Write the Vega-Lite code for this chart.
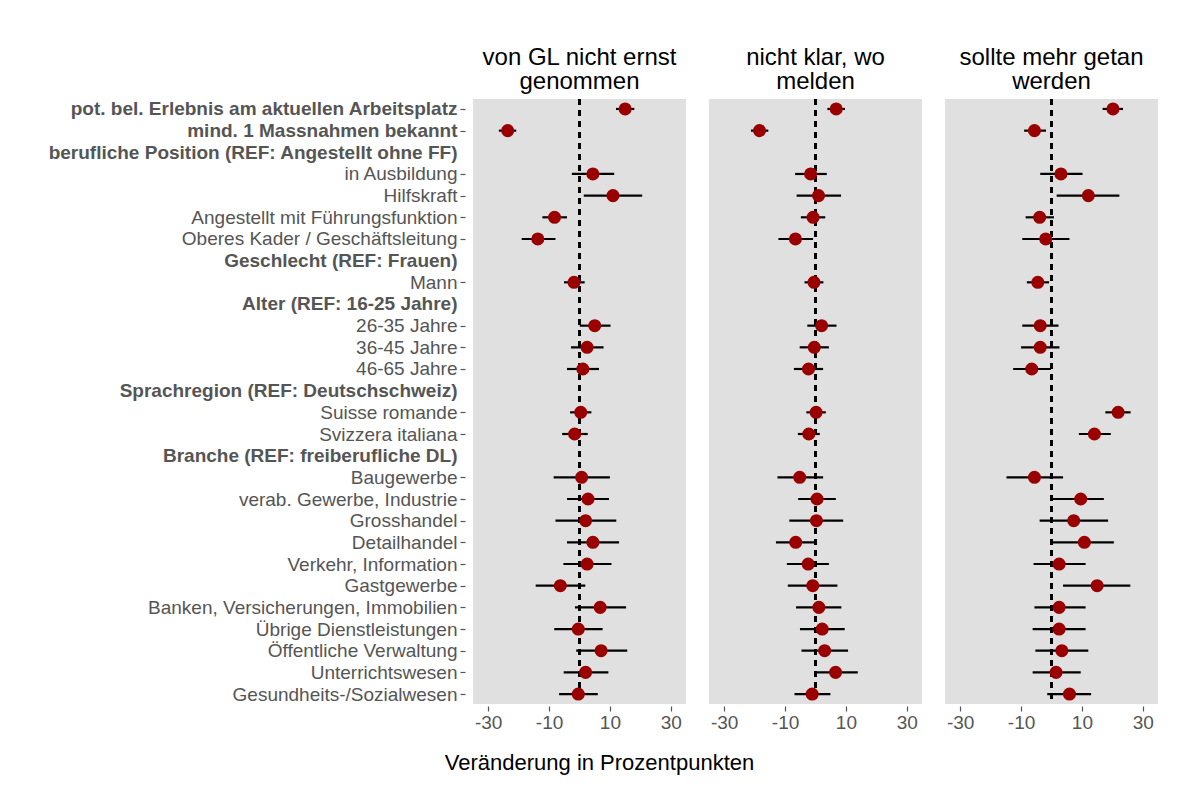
{
  "$schema": "https://vega.github.io/schema/vega-lite/v6.json",
  "background": "white",
  "padding": {"left": 47, "top": 46, "right": 5, "bottom": 5},
  "config": {
    "font": "Liberation Sans",
    "view": {"fill": "#E0E0E0", "stroke": null},
    "axis": {"domain": false, "gridColor": "white", "gridWidth": 1.6, "labelFont": "Liberation Sans", "labelFontSize": 19, "labelColor": "#555555", "tickColor": "#555555", "tickWidth": 1.2},
    "title": {"font": "Liberation Sans", "fontSize": 24, "fontWeight": "normal", "color": "black", "lineHeight": 24, "offset": 4, "anchor": "middle"}
  },
  "datasets": {
    "rows": [
      {"p": "GL", "y": "pot. bel. Erlebnis am aktuellen Arbeitsplatz", "e": 15.0, "lo": 12.0, "hi": 18.0},
      {"p": "GL", "y": "mind. 1 Massnahmen bekannt", "e": -23.6, "lo": -26.5, "hi": -20.8},
      {"p": "GL", "y": "in Ausbildung", "e": 4.4, "lo": -2.5, "hi": 11.4},
      {"p": "GL", "y": "Hilfskraft", "e": 11.0, "lo": 1.4, "hi": 20.6},
      {"p": "GL", "y": "Angestellt mit Führungsfunktion", "e": -8.2, "lo": -12.2, "hi": -4.1},
      {"p": "GL", "y": "Oberes Kader / Geschäftsleitung", "e": -13.7, "lo": -19.0, "hi": -7.9},
      {"p": "GL", "y": "Mann", "e": -1.8, "lo": -5.1, "hi": 1.7},
      {"p": "GL", "y": "26-35 Jahre", "e": 5.0, "lo": 0.1, "hi": 10.2},
      {"p": "GL", "y": "36-45 Jahre", "e": 2.5, "lo": -2.8, "hi": 7.9},
      {"p": "GL", "y": "46-65 Jahre", "e": 1.1, "lo": -4.1, "hi": 6.4},
      {"p": "GL", "y": "Suisse romande", "e": 0.4, "lo": -3.1, "hi": 3.9},
      {"p": "GL", "y": "Svizzera italiana", "e": -1.6, "lo": -5.7, "hi": 2.7},
      {"p": "GL", "y": "Baugewerbe", "e": 0.7, "lo": -8.5, "hi": 10.0},
      {"p": "GL", "y": "verab. Gewerbe, Industrie", "e": 2.8, "lo": -4.1, "hi": 9.7},
      {"p": "GL", "y": "Grosshandel", "e": 2.0, "lo": -7.9, "hi": 12.1},
      {"p": "GL", "y": "Detailhandel", "e": 4.4, "lo": -4.1, "hi": 13.0},
      {"p": "GL", "y": "Verkehr, Information", "e": 2.5, "lo": -5.3, "hi": 10.5},
      {"p": "GL", "y": "Gastgewerbe", "e": -6.3, "lo": -14.4, "hi": 1.9},
      {"p": "GL", "y": "Banken, Versicherungen, Immobilien", "e": 6.8, "lo": -1.5, "hi": 15.3},
      {"p": "GL", "y": "Übrige Dienstleistungen", "e": -0.4, "lo": -8.3, "hi": 7.6},
      {"p": "GL", "y": "Öffentliche Verwaltung", "e": 7.1, "lo": -1.1, "hi": 15.7},
      {"p": "GL", "y": "Unterrichtswesen", "e": 2.0, "lo": -5.2, "hi": 9.5},
      {"p": "GL", "y": "Gesundheits-/Sozialwesen", "e": -0.4, "lo": -6.7, "hi": 6.0},
      {"p": "ME", "y": "pot. bel. Erlebnis am aktuellen Arbeitsplatz", "e": 6.8, "lo": 3.9, "hi": 9.7},
      {"p": "ME", "y": "mind. 1 Massnahmen bekannt", "e": -18.4, "lo": -21.2, "hi": -15.5},
      {"p": "ME", "y": "in Ausbildung", "e": -1.6, "lo": -6.7, "hi": 3.7},
      {"p": "ME", "y": "Hilfskraft", "e": 1.0, "lo": -6.2, "hi": 8.4},
      {"p": "ME", "y": "Angestellt mit Führungsfunktion", "e": -0.8, "lo": -4.8, "hi": 3.2},
      {"p": "ME", "y": "Oberes Kader / Geschäftsleitung", "e": -6.6, "lo": -12.2, "hi": -0.8},
      {"p": "ME", "y": "Mann", "e": -0.5, "lo": -3.6, "hi": 2.6},
      {"p": "ME", "y": "26-35 Jahre", "e": 2.0, "lo": -2.7, "hi": 6.9},
      {"p": "ME", "y": "36-45 Jahre", "e": -0.4, "lo": -5.2, "hi": 4.4},
      {"p": "ME", "y": "46-65 Jahre", "e": -2.3, "lo": -7.1, "hi": 2.5},
      {"p": "ME", "y": "Suisse romande", "e": 0.2, "lo": -3.0, "hi": 3.4},
      {"p": "ME", "y": "Svizzera italiana", "e": -2.2, "lo": -5.8, "hi": 1.4},
      {"p": "ME", "y": "Baugewerbe", "e": -5.2, "lo": -12.5, "hi": 2.5},
      {"p": "ME", "y": "verab. Gewerbe, Industrie", "e": 0.5, "lo": -5.7, "hi": 6.7},
      {"p": "ME", "y": "Grosshandel", "e": 0.3, "lo": -8.6, "hi": 9.1},
      {"p": "ME", "y": "Detailhandel", "e": -6.5, "lo": -13.0, "hi": 0.0},
      {"p": "ME", "y": "Verkehr, Information", "e": -2.4, "lo": -9.4, "hi": 4.4},
      {"p": "ME", "y": "Gastgewerbe", "e": -0.9, "lo": -9.1, "hi": 7.2},
      {"p": "ME", "y": "Banken, Versicherungen, Immobilien", "e": 1.1, "lo": -6.4, "hi": 8.5},
      {"p": "ME", "y": "Übrige Dienstleistungen", "e": 2.2, "lo": -5.1, "hi": 9.6},
      {"p": "ME", "y": "Öffentliche Verwaltung", "e": 3.0, "lo": -4.6, "hi": 10.7},
      {"p": "ME", "y": "Unterrichtswesen", "e": 6.6, "lo": -0.4, "hi": 13.9},
      {"p": "ME", "y": "Gesundheits-/Sozialwesen", "e": -1.1, "lo": -6.9, "hi": 4.9},
      {"p": "MG", "y": "pot. bel. Erlebnis am aktuellen Arbeitsplatz", "e": 20.2, "lo": 16.8, "hi": 23.5},
      {"p": "MG", "y": "mind. 1 Massnahmen bekannt", "e": -5.6, "lo": -9.0, "hi": -1.8},
      {"p": "MG", "y": "in Ausbildung", "e": 3.1, "lo": -3.7, "hi": 10.2},
      {"p": "MG", "y": "Hilfskraft", "e": 12.1, "lo": 1.7, "hi": 22.3},
      {"p": "MG", "y": "Angestellt mit Führungsfunktion", "e": -3.9, "lo": -8.5, "hi": 0.8},
      {"p": "MG", "y": "Oberes Kader / Geschäftsleitung", "e": -1.9, "lo": -9.6, "hi": 5.9},
      {"p": "MG", "y": "Mann", "e": -4.5, "lo": -8.1, "hi": -0.8},
      {"p": "MG", "y": "26-35 Jahre", "e": -3.7, "lo": -9.6, "hi": 2.3},
      {"p": "MG", "y": "36-45 Jahre", "e": -3.7, "lo": -10.0, "hi": 2.6},
      {"p": "MG", "y": "46-65 Jahre", "e": -6.5, "lo": -12.6, "hi": -0.2},
      {"p": "MG", "y": "Suisse romande", "e": 21.9, "lo": 17.7, "hi": 26.0},
      {"p": "MG", "y": "Svizzera italiana", "e": 14.1, "lo": 9.0, "hi": 19.5},
      {"p": "MG", "y": "Baugewerbe", "e": -5.6, "lo": -14.8, "hi": 3.8},
      {"p": "MG", "y": "verab. Gewerbe, Industrie", "e": 9.6, "lo": 0.2, "hi": 17.2},
      {"p": "MG", "y": "Grosshandel", "e": 7.3, "lo": -3.9, "hi": 18.6},
      {"p": "MG", "y": "Detailhandel", "e": 10.8, "lo": 0.2, "hi": 20.5},
      {"p": "MG", "y": "Verkehr, Information", "e": 2.5, "lo": -5.9, "hi": 11.2},
      {"p": "MG", "y": "Gastgewerbe", "e": 15.0, "lo": 3.8, "hi": 25.9},
      {"p": "MG", "y": "Banken, Versicherungen, Immobilien", "e": 2.5, "lo": -5.6, "hi": 11.2},
      {"p": "MG", "y": "Übrige Dienstleistungen", "e": 2.5, "lo": -6.2, "hi": 11.2},
      {"p": "MG", "y": "Öffentliche Verwaltung", "e": 3.4, "lo": -5.3, "hi": 12.1},
      {"p": "MG", "y": "Unterrichtswesen", "e": 1.5, "lo": -6.2, "hi": 9.6},
      {"p": "MG", "y": "Gesundheits-/Sozialwesen", "e": 5.9, "lo": -1.4, "hi": 13.0}
    ]
  },
  "data": {"name": "rows"},
  "spacing": 23,
  "bounds": "flush",
  "hconcat": [
    {
      "width": 213, "height": 605,
      "title": {"text": ["von GL nicht ernst", "genommen"]},
      "transform": [{"filter": "datum.p === 'GL'"}],
      "layer": [
        {"mark": {"type": "rule", "color": "black", "strokeDash": [6, 5], "strokeWidth": 1.3},
         "encoding": {"x": {"datum": 0, "type": "quantitative", "scale": {"domain": [-34.3, 34]}}}},
        {"mark": {"type": "rule", "color": "black", "strokeWidth": 2.2},
         "encoding": {
           "y": {"field": "y", "type": "nominal", "sort": null,
             "scale": {"type": "point", "padding": 0.46, "domain": ["pot. bel. Erlebnis am aktuellen Arbeitsplatz", "mind. 1 Massnahmen bekannt", "berufliche Position (REF: Angestellt ohne FF)", "in Ausbildung", "Hilfskraft", "Angestellt mit Führungsfunktion", "Oberes Kader / Geschäftsleitung", "Geschlecht (REF: Frauen)", "Mann", "Alter (REF: 16-25 Jahre)", "26-35 Jahre", "36-45 Jahre", "46-65 Jahre", "Sprachregion (REF: Deutschschweiz)", "Suisse romande", "Svizzera italiana", "Branche (REF: freiberufliche DL)", "Baugewerbe", "verab. Gewerbe, Industrie", "Grosshandel", "Detailhandel", "Verkehr, Information", "Gastgewerbe", "Banken, Versicherungen, Immobilien", "Übrige Dienstleistungen", "Öffentliche Verwaltung", "Unterrichtswesen", "Gesundheits-/Sozialwesen"]},
             "axis": {"title": null, "offset": 8, "tickSize": 5, "labelPadding": 3, "labelLimit": 0, "minExtent": 400, "maxExtent": 400,
               "labelFontWeight": {"condition": {"test": "test(/REF:|Arbeitsplatz|bekannt/, datum.value)", "value": "bold"}, "value": "normal"},
               "tickOpacity": {"condition": {"test": "test(/REF:/, datum.value)", "value": 0}, "value": 1},
               "gridOpacity": {"condition": {"test": "test(/REF:/, datum.value)", "value": 0}, "value": 1}}},
           "x": {"field": "lo", "type": "quantitative", "scale": {"domain": [-34.3, 34]},
             "axis": {"values": [-30, -10, 10, 30], "labelExpr": "datum.value + ''", "offset": 2, "tickSize": 5, "labelPadding": 2,
               "title": "Veränderung in Prozentpunkten", "titleFontSize": 22, "titleFontWeight": "normal", "titleColor": "black",
               "titleX": 126, "titleY": 56, "titleAlign": "center", "titleBaseline": "middle"}},
           "x2": {"field": "hi"}
         }},
        {"mark": {"type": "point", "filled": true, "color": "#9B0000", "opacity": 1, "size": 170},
         "encoding": {
           "y": {"field": "y", "type": "nominal", "sort": null},
           "x": {"field": "e", "type": "quantitative"}
         }}
      ]
    },
    {
      "width": 213, "height": 605,
      "title": {"text": ["nicht klar, wo", "melden"]},
      "transform": [{"filter": "datum.p === 'ME'"}],
      "layer": [
        {"mark": {"type": "rule", "color": "black", "strokeDash": [6, 5], "strokeWidth": 1.3},
         "encoding": {"x": {"datum": 0, "type": "quantitative", "scale": {"domain": [-34.3, 34]}}}},
        {"mark": {"type": "rule", "color": "black", "strokeWidth": 2.2},
         "encoding": {
           "y": {"field": "y", "type": "nominal", "sort": null,
             "scale": {"type": "point", "padding": 0.46, "domain": ["pot. bel. Erlebnis am aktuellen Arbeitsplatz", "mind. 1 Massnahmen bekannt", "berufliche Position (REF: Angestellt ohne FF)", "in Ausbildung", "Hilfskraft", "Angestellt mit Führungsfunktion", "Oberes Kader / Geschäftsleitung", "Geschlecht (REF: Frauen)", "Mann", "Alter (REF: 16-25 Jahre)", "26-35 Jahre", "36-45 Jahre", "46-65 Jahre", "Sprachregion (REF: Deutschschweiz)", "Suisse romande", "Svizzera italiana", "Branche (REF: freiberufliche DL)", "Baugewerbe", "verab. Gewerbe, Industrie", "Grosshandel", "Detailhandel", "Verkehr, Information", "Gastgewerbe", "Banken, Versicherungen, Immobilien", "Übrige Dienstleistungen", "Öffentliche Verwaltung", "Unterrichtswesen", "Gesundheits-/Sozialwesen"]},
             "axis": {"title": null, "labels": false, "ticks": false, "minExtent": 0, "maxExtent": 0,
               "gridOpacity": {"condition": {"test": "test(/REF:/, datum.value)", "value": 0}, "value": 1}}},
           "x": {"field": "lo", "type": "quantitative", "scale": {"domain": [-34.3, 34]},
             "axis": {"values": [-30, -10, 10, 30], "labelExpr": "datum.value + ''", "offset": 2, "tickSize": 5, "labelPadding": 2, "title": null}},
           "x2": {"field": "hi"}
         }},
        {"mark": {"type": "point", "filled": true, "color": "#9B0000", "opacity": 1, "size": 170},
         "encoding": {
           "y": {"field": "y", "type": "nominal", "sort": null},
           "x": {"field": "e", "type": "quantitative"}
         }}
      ]
    },
    {
      "width": 213, "height": 605,
      "title": {"text": ["sollte mehr getan", "werden"]},
      "transform": [{"filter": "datum.p === 'MG'"}],
      "layer": [
        {"mark": {"type": "rule", "color": "black", "strokeDash": [6, 5], "strokeWidth": 1.3},
         "encoding": {"x": {"datum": 0, "type": "quantitative", "scale": {"domain": [-34.3, 34]}}}},
        {"mark": {"type": "rule", "color": "black", "strokeWidth": 2.2},
         "encoding": {
           "y": {"field": "y", "type": "nominal", "sort": null,
             "scale": {"type": "point", "padding": 0.46, "domain": ["pot. bel. Erlebnis am aktuellen Arbeitsplatz", "mind. 1 Massnahmen bekannt", "berufliche Position (REF: Angestellt ohne FF)", "in Ausbildung", "Hilfskraft", "Angestellt mit Führungsfunktion", "Oberes Kader / Geschäftsleitung", "Geschlecht (REF: Frauen)", "Mann", "Alter (REF: 16-25 Jahre)", "26-35 Jahre", "36-45 Jahre", "46-65 Jahre", "Sprachregion (REF: Deutschschweiz)", "Suisse romande", "Svizzera italiana", "Branche (REF: freiberufliche DL)", "Baugewerbe", "verab. Gewerbe, Industrie", "Grosshandel", "Detailhandel", "Verkehr, Information", "Gastgewerbe", "Banken, Versicherungen, Immobilien", "Übrige Dienstleistungen", "Öffentliche Verwaltung", "Unterrichtswesen", "Gesundheits-/Sozialwesen"]},
             "axis": {"title": null, "labels": false, "ticks": false, "minExtent": 0, "maxExtent": 0,
               "gridOpacity": {"condition": {"test": "test(/REF:/, datum.value)", "value": 0}, "value": 1}}},
           "x": {"field": "lo", "type": "quantitative", "scale": {"domain": [-34.3, 34]},
             "axis": {"values": [-30, -10, 10, 30], "labelExpr": "datum.value + ''", "offset": 2, "tickSize": 5, "labelPadding": 2, "title": null}},
           "x2": {"field": "hi"}
         }},
        {"mark": {"type": "point", "filled": true, "color": "#9B0000", "opacity": 1, "size": 170},
         "encoding": {
           "y": {"field": "y", "type": "nominal", "sort": null},
           "x": {"field": "e", "type": "quantitative"}
         }}
      ]
    }
  ]
}
